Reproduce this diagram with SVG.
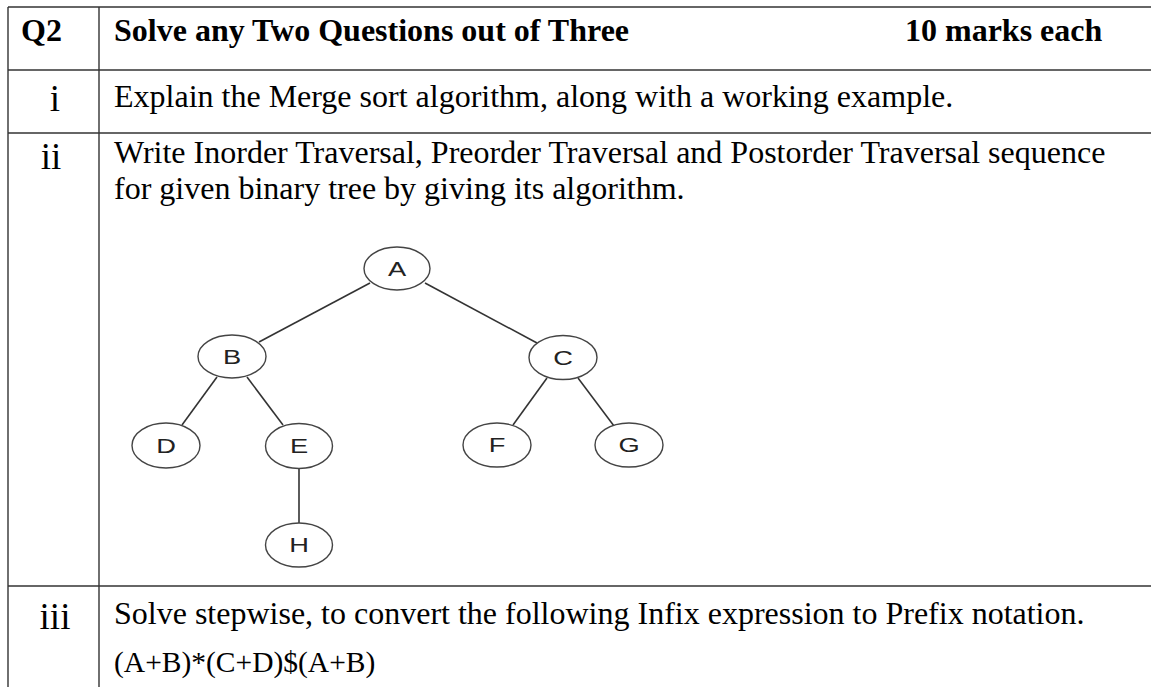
<svg xmlns="http://www.w3.org/2000/svg" width="1151" height="687" viewBox="0 0 1151 687">
  <style>
    .grid { stroke: #333; stroke-width: 1.4; fill: none; }
    .body { font-family: "Liberation Serif", "Times New Roman", serif; font-size: 32px; fill: #000; }
    .bold { font-weight: bold; }
    .expr { font-size: 29.5px; }
    .num { font-family: "Liberation Serif", "Times New Roman", serif; font-size: 37px; fill: #000; text-anchor: middle; }
    .node ellipse { fill: #fff; stroke: #444; stroke-width: 1.4; }
    .node text { font-family: "Liberation Sans", Arial, sans-serif; font-size: 21px; fill: #222; text-anchor: middle; }
    .edges line { stroke: #333; stroke-width: 1.6; }
  </style>
  <rect width="1151" height="687" fill="#fff"/>

  <!-- table rules -->
  <g id="table" class="grid">
    <line x1="8" y1="7" x2="1151" y2="7"/>
    <line x1="8" y1="70" x2="1151" y2="70"/>
    <line x1="8" y1="133" x2="1151" y2="133"/>
    <line x1="8" y1="586" x2="1151" y2="586"/>
    <line x1="8" y1="7" x2="8" y2="687"/>
    <line x1="99" y1="7" x2="99" y2="687"/>
  </g>

  <!-- header row -->
  <g id="header">
    <text class="body bold" x="21" y="41">Q2</text>
    <text class="body bold" x="114" y="41">Solve any Two Questions out of Three</text>
    <text class="body bold" x="905" y="41">10 marks each</text>
  </g>

  <!-- question i -->
  <g id="q-i">
    <text class="num" x="55" y="111">i</text>
    <text class="body" x="114" y="107">Explain the Merge sort algorithm, along with a working example.</text>
  </g>

  <!-- question ii -->
  <g id="q-ii">
    <text class="num" x="51" y="169">ii</text>
    <text class="body" x="114" y="163">Write Inorder Traversal, Preorder Traversal and Postorder Traversal sequence</text>
    <text class="body" x="114" y="199">for given binary tree by giving its algorithm.</text>
  </g>

  <!-- binary tree edges -->
  <g id="edges" class="edges">
    <line x1="370" y1="283" x2="259" y2="342"/>
    <line x1="425" y1="283" x2="537" y2="343"/>
    <line x1="217" y1="377" x2="182" y2="425"/>
    <line x1="247" y1="377" x2="283" y2="425"/>
    <line x1="547" y1="378" x2="513" y2="425"/>
    <line x1="578" y1="378" x2="614" y2="426"/>
    <line x1="299" y1="468" x2="299" y2="523"/>
  </g>

  <!-- binary tree nodes (labels drawn slightly wide) -->
  <g id="node-A" class="node"><ellipse cx="397" cy="268.5" rx="33" ry="21.5"/><text transform="matrix(1.3 0 0 1 397 0)" x="0" y="276">A</text></g>
  <g id="node-B" class="node"><ellipse cx="232" cy="356.5" rx="34" ry="21.5"/><text transform="matrix(1.3 0 0 1 232 0)" x="0" y="364">B</text></g>
  <g id="node-C" class="node"><ellipse cx="563" cy="357.5" rx="34" ry="22"/><text transform="matrix(1.3 0 0 1 563 0)" x="0" y="365">C</text></g>
  <g id="node-D" class="node"><ellipse cx="166" cy="445.5" rx="34" ry="22.5"/><text transform="matrix(1.3 0 0 1 166 0)" x="0" y="453">D</text></g>
  <g id="node-E" class="node"><ellipse cx="299" cy="446" rx="33.5" ry="22.5"/><text transform="matrix(1.3 0 0 1 299 0)" x="0" y="453.5">E</text></g>
  <g id="node-F" class="node"><ellipse cx="497" cy="445" rx="34" ry="22"/><text transform="matrix(1.3 0 0 1 497 0)" x="0" y="452.5">F</text></g>
  <g id="node-G" class="node"><ellipse cx="629" cy="445" rx="34" ry="22"/><text transform="matrix(1.3 0 0 1 629 0)" x="0" y="452.5">G</text></g>
  <g id="node-H" class="node"><ellipse cx="299" cy="545" rx="33.5" ry="22"/><text transform="matrix(1.3 0 0 1 299 0)" x="0" y="552.5">H</text></g>

  <!-- question iii -->
  <g id="q-iii">
    <text class="num" x="55" y="629">iii</text>
    <text class="body" x="114" y="624">Solve stepwise, to convert the following Infix expression to Prefix notation.</text>
    <text class="body expr" x="114" y="672">(A+B)*(C+D)$(A+B)</text>
  </g>
</svg>
